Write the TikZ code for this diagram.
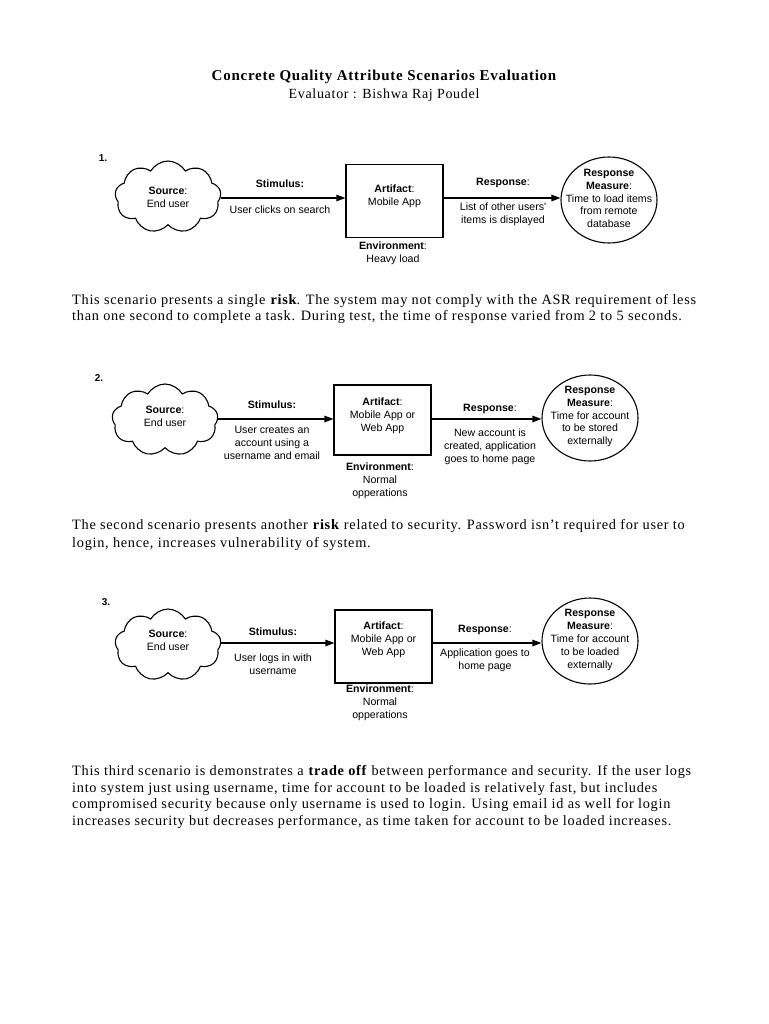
\documentclass[tikz,border=0pt]{standalone}
\usepackage{fontspec}
\setmainfont[LetterSpace=5]{Liberation Serif}
\newfontfamily\dsans{Liberation Sans}
\usetikzlibrary{shapes.symbols,shapes.geometric,arrows.meta}
\begin{document}
\begin{tikzpicture}[x=1pt,y=-1pt,
  dtext/.style={font=\dsans\fontsize{10.6}{12.8}\selectfont, align=center, inner sep=0pt},
  numlbl/.style={font=\dsans\bfseries\fontsize{10}{12}\selectfont, inner sep=0pt},
  cloudbox/.style={cloud, cloud puffs=9, cloud puff arc=120, cloud ignores aspect, draw, line width=1.1pt, inner sep=0pt, minimum width=106pt, minimum height=72pt},
  artbox/.style={draw, line width=1.1pt, minimum width=97pt, minimum height=73pt, inner sep=0pt},
  rmcircle/.style={ellipse, draw, line width=1.1pt, minimum width=96pt, minimum height=86pt, inner sep=0pt},
  flow/.style={line width=1.2pt, -{Triangle[length=9pt,width=6.5pt]}},
  body/.style={font=\fontsize{14.3}{16}\selectfont, anchor=base west, inner sep=0pt},
]
\useasboundingbox[fill=white] (0,0) rectangle (768,1024);

% Title
\node[font=\bfseries\fontsize{15}{18}\selectfont, inner sep=0pt] (title) at (384,77) {Concrete Quality Attribute Scenarios Evaluation};
\node[font=\fontsize{14}{16}\selectfont, inner sep=0pt] (subtitle) at (384,95) {Evaluator : Bishwa Raj Poudel};

% ---------- Scenario 1 ----------
\coordinate (a1) at (0,198);
\node[numlbl] (n1) at (103,158) {1.};
\node[cloudbox] (src1) at (168,197) {};
\node[dtext] (src1t) at (168,197) {\textbf{Source}:\\End user};
\node[artbox] (art1) at (394.5,201) {};
\node[dtext] (art1t) at (394.5,196.5) {\textbf{Artifact}:\\Mobile App};
\node[rmcircle] (rm1) at (609,200) {};
\node[dtext] (rm1t) at (609,198.5) {\textbf{Response}\\\textbf{Measure}:\\Time to load items\\from remote\\database};
\draw[flow] (src1.east |- a1) -- (art1.west |- a1);
\draw[flow] (art1.east |- a1) -- (rm1.west |- a1);
\node[dtext] (stim1) at (280,184) {\textbf{Stimulus:}};
\node[dtext] (stim1d) at (280,210) {User clicks on search};
\node[dtext] (resp1) at (503,183) {\textbf{Response}:};
\node[dtext] (resp1d) at (503,214) {List of other users'\\items is displayed};
\node[dtext] (env1) at (393,253.5) {\textbf{Environment}:\\Heavy load};

\node[body] (p1a) at (72,304.5) {This scenario presents a single \textbf{risk}. The system may not comply with the ASR requirement of less};
\node[body] (p1b) at (72,320.5) {than one second to complete a task. During test, the time of response varied from 2 to 5 seconds.};

% ---------- Scenario 2 ----------
\coordinate (a2) at (0,419);
\node[numlbl] (n2) at (99,378) {2.};
\node[cloudbox] (src2) at (165,420) {};
\node[dtext] (src2t) at (165,416.5) {\textbf{Source}:\\End user};
\node[artbox, minimum height=70pt] (art2) at (382.5,420) {};
\node[dtext] (art2t) at (382.5,416) {\textbf{Artifact}:\\Mobile App or\\Web App};
\node[rmcircle] (rm2) at (590,418) {};
\node[dtext] (rm2t) at (590,416.5) {\textbf{Response}\\\textbf{Measure}:\\Time for account\\to be stored\\externally};
\draw[flow] (src2.east |- a2) -- (art2.west |- a2);
\draw[flow] (art2.east |- a2) -- (rm2.west |- a2);
\node[dtext] (stim2) at (272,405) {\textbf{Stimulus:}};
\node[dtext] (stim2d) at (272,443) {User creates an\\account using a\\username and email};
\node[dtext] (resp2) at (490,409) {\textbf{Response}:};
\node[dtext] (resp2d) at (490,447) {New account is\\created, application\\goes to home page};
\node[dtext] (env2) at (380,480.5) {\textbf{Environment}:\\Normal\\opperations};

\node[body] (p2a) at (72,529.5) {The second scenario presents another \textbf{risk} related to security. Password isn't required for user to};
\node[body] (p2b) at (72,547.5) {login, hence, increases vulnerability of system.};

% ---------- Scenario 3 ----------
\coordinate (a3) at (0,643);
\node[numlbl] (n3) at (106,602) {3.};
\node[cloudbox] (src3) at (168,645) {};
\node[dtext] (src3t) at (168,640.5) {\textbf{Source}:\\End user};
\node[artbox] (art3) at (383.5,646.5) {};
\node[dtext] (art3t) at (383.5,640) {\textbf{Artifact}:\\Mobile App or\\Web App};
\node[rmcircle] (rm3) at (590,641) {};
\node[dtext] (rm3t) at (590,640) {\textbf{Response}\\\textbf{Measure}:\\Time for account\\to be loaded\\externally};
\draw[flow] (src3.east |- a3) -- (art3.west |- a3);
\draw[flow] (art3.east |- a3) -- (rm3.west |- a3);
\node[dtext] (stim3) at (273,632) {\textbf{Stimulus:}};
\node[dtext] (stim3d) at (273,664) {User logs in with\\username};
\node[dtext] (resp3) at (485,630) {\textbf{Response}:};
\node[dtext] (resp3d) at (485,660) {Application goes to\\home page};
\node[dtext] (env3) at (380,703) {\textbf{Environment}:\\Normal\\opperations};

\node[body] (p3a) at (72,775.5) {This third scenario is demonstrates a \textbf{trade off} between performance and security. If the user logs};
\node[body] (p3b) at (72,792) {into system just using username, time for account to be loaded is relatively fast, but includes};
\node[body] (p3c) at (72,808.5) {compromised security because only username is used to login. Using email id as well for login};
\node[body] (p3d) at (72,825) {increases security but decreases performance, as time taken for account to be loaded increases.};
\end{tikzpicture}
\end{document}
